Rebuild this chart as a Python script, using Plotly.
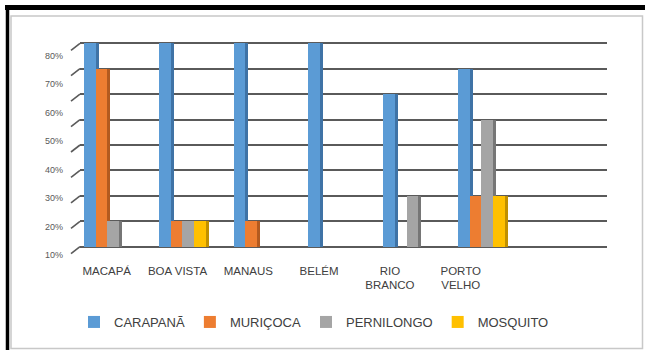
import plotly.graph_objects as go

# ---------------- data ----------------
categories = ["MACAPÁ", "BOA VISTA", "MANAUS", "BELÉM", "RIO<br>BRANCO", "PORTO<br>VELHO"]
series_names = ["CARAPANÃ", "MURIÇOCA", "PERNILONGO", "MOSQUITO"]
carapana = [80, 80, 80, 80, 60, 70]
muricoca = [70, 10, 10, 0, 0, 20]
pernilongo = [10, 10, 0, 0, 20, 50]
mosquito = [0, 10, 0, 0, 0, 20]
grid_values = [0, 10, 20, 30, 40, 50, 60, 70, 80]
y_tick_values = [10, 20, 30, 40, 50, 60, 70, 80]
y_tick_labels = ["10%", "20%", "30%", "40%", "50%", "60%", "70%", "80%"]

# ---------------- style ----------------
W, H = 645, 350
front_colors = ["#5B9BD5", "#ED7D31", "#A5A5A5", "#FFC000"]
side_colors = ["#3F73A6", "#B35A1F", "#767676", "#C09000"]

pitch = 0.1565
first_offset = -0.3128
side_extra = 0.04

values = [carapana, muricoca, pernilongo, mosquito]
xs = list(range(len(categories)))

fig = go.Figure()
for k, (name, vals) in enumerate(zip(series_names, values)):
    off = first_offset + k * pitch
    fig.add_trace(go.Bar(
        x=xs, y=vals, offset=off, width=pitch + side_extra,
        marker=dict(color=side_colors[k], line=dict(width=0)),
        showlegend=False, hoverinfo="skip", xaxis="x", yaxis="y"))
    fig.add_trace(go.Bar(
        x=xs, y=vals, offset=off, width=pitch,
        name=name,
        marker=dict(color=front_colors[k], line=dict(width=0)),
        xaxis="x", yaxis="y"))

# invisible trace to hold the label axes
fig.add_trace(go.Scatter(x=[None], y=[None], xaxis="x2", yaxis="y2",
                         showlegend=False, hoverinfo="skip"))

grid_color = "#5a5a5a"
shapes = []
# slanted side-wall gridlines (3D look)
px_per_unit = 2.5425
for v in grid_values:
    shapes.append(dict(type="line", xref="paper", yref="y",
                       x0=71 / W, x1=80 / W, y0=v - 7 / px_per_unit, y1=v,
                       line=dict(color=grid_color, width=1.6)))
# frame: light gray inner box, black top and left edges
shapes.append(dict(type="rect", xref="paper", yref="paper",
                   x0=11 / W, x1=642.5 / W, y0=1 - 348.5 / H, y1=1 - 16 / H,
                   line=dict(color="#c8c8c8", width=1.5)))
shapes.append(dict(type="line", xref="paper", yref="paper",
                   x0=5 / W, x1=1, y0=1 - 7.5 / H, y1=1 - 7.5 / H,
                   line=dict(color="#000000", width=5)))
shapes.append(dict(type="line", xref="paper", yref="paper",
                   x0=7.5 / W, x1=7.5 / W, y0=0, y1=1 - 5 / H,
                   line=dict(color="#000000", width=3.5)))

font_family = "Liberation Sans, Arial, sans-serif"
fig.update_layout(
    width=W, height=H,
    margin=dict(l=0, r=0, t=0, b=0),
    paper_bgcolor="white", plot_bgcolor="white",
    barmode="overlay",
    bargap=0,
    font=dict(family=font_family, color="#404040"),
    xaxis=dict(domain=[80 / W, 607 / W], range=[-0.3663, 6.679],
               showticklabels=False, showgrid=False, zeroline=False,
               showline=False, ticks=""),
    xaxis2=dict(overlaying="x", anchor="y", side="bottom",
                range=[-0.377, 7.066], tickmode="array",
                tickvals=xs, ticktext=categories,
                showgrid=False, zeroline=False, showline=False, ticks="",
                tickfont=dict(size=11.5, color="#404040", family=font_family)),
    yaxis=dict(domain=[1 - 262 / H, 1 - 30 / H], range=[-6.018, 85.23],
               tickmode="array", tickvals=grid_values,
               showticklabels=False, showgrid=True, gridcolor=grid_color,
               gridwidth=1.6, zeroline=False, showline=False, ticks=""),
    yaxis2=dict(overlaying="y", anchor="free", position=63 / W, side="left",
                range=[7.54, 89.03], tickmode="array",
                tickvals=y_tick_values, ticktext=y_tick_labels,
                showgrid=False, zeroline=False, showline=False, ticks="",
                tickfont=dict(size=9, color="#595959", family=font_family)),
    legend=dict(orientation="h", x=314 / W, xanchor="center",
                y=1 - 322 / H, yanchor="middle",
                font=dict(size=13, color="#404040", family=font_family),
                bgcolor="rgba(0,0,0,0)"),
    shapes=shapes,
)

fig.write_html("out.html")
